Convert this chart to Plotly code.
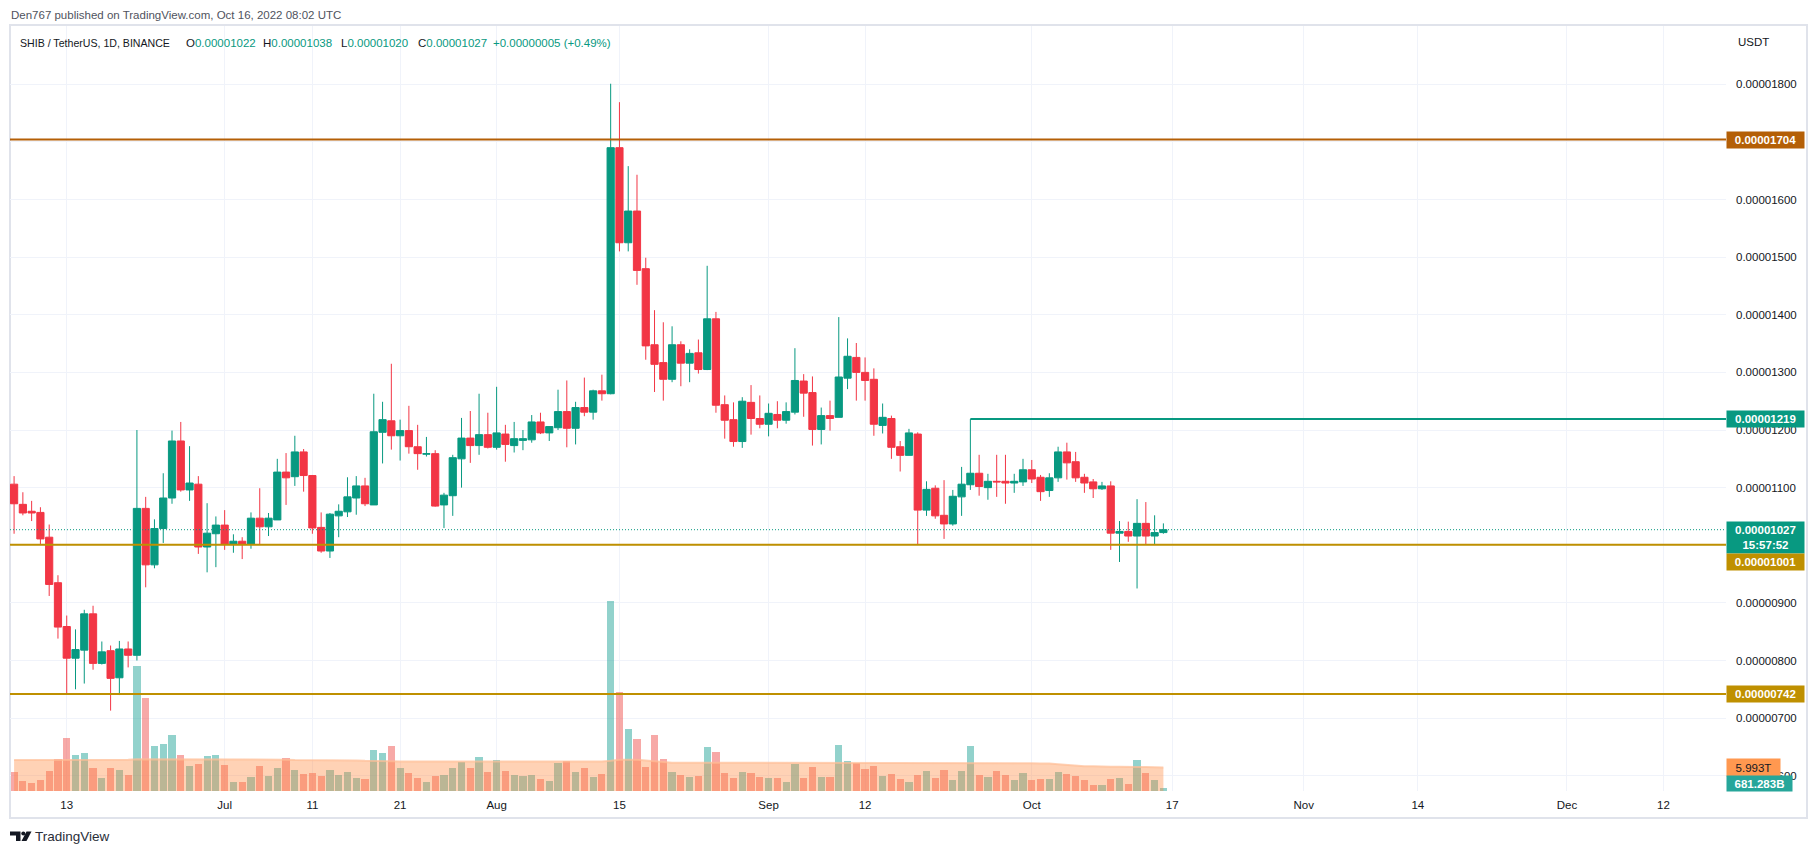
import pandas as pd
import plotly.graph_objects as go

W, H = 1818, 854


def px(x):
    return x / W


def py(y):
    return 1 - y / H


UNIT = 1e-8          # prices below are in units of 0.00000001 USDT
START = "2022-06-07"  # first daily candle

opens = [1106, 1071, 1059, 1057, 1014, 935, 859, 804, 818, 881, 795, 817, 770, 820,
         809, 1064, 966, 1029, 1082, 1181, 1096, 1106, 997, 1020, 1035, 1002, 1007, 1002,
         1047, 1032, 1044, 1127, 1119, 1162, 1121, 1031, 990, 1051, 1058, 1082, 1103, 1070,
         1196, 1216, 1190, 1199, 1171, 1158, 1159, 1070, 1086, 1150, 1186, 1173, 1192, 1170,
         1193, 1173, 1182, 1183, 1214, 1195, 1204, 1232, 1203, 1239, 1231, 1268, 1263, 1690,
         1525, 1580, 1480, 1348, 1317, 1288, 1348, 1316, 1334, 1305, 1393, 1244, 1218, 1180,
         1248, 1220, 1210, 1227, 1217, 1231, 1285, 1265, 1201, 1225, 1222, 1290, 1326, 1300,
         1288, 1208, 1220, 1171, 1156, 1193, 1061, 1099, 1052, 1037, 1084, 1105, 1125, 1100,
         1111, 1111, 1108, 1110, 1131, 1118, 1095, 1117, 1162, 1145, 1118, 1110, 1098, 1103,
         1021, 1024, 1016, 1038, 1016, 1022]
highs = [1120, 1092, 1077, 1066, 1036, 948, 878, 854, 888, 895, 833, 826, 834, 833,
         1200, 1084, 1045, 1125, 1199, 1214, 1172, 1120, 1073, 1050, 1061, 1019, 1014, 1057,
         1099, 1056, 1150, 1160, 1190, 1167, 1122, 1057, 1056, 1071, 1118, 1120, 1117, 1263,
         1249, 1315, 1218, 1242, 1209, 1188, 1165, 1091, 1157, 1221, 1233, 1263, 1230, 1275,
         1209, 1214, 1200, 1226, 1230, 1206, 1270, 1286, 1249, 1291, 1270, 1296, 1801, 1769,
         1658, 1643, 1499, 1408, 1387, 1380, 1354, 1340, 1357, 1485, 1405, 1260, 1248, 1257,
         1278, 1260, 1246, 1250, 1248, 1342, 1297, 1293, 1239, 1251, 1396, 1359, 1351, 1326,
         1307, 1246, 1225, 1181, 1202, 1196, 1111, 1104, 1113, 1096, 1136, 1219, 1157, 1124,
         1157, 1157, 1124, 1150, 1148, 1122, 1125, 1171, 1178, 1162, 1124, 1115, 1110, 1111,
         1042, 1041, 1080, 1075, 1052, 1038]
lows = [1020, 1052, 1042, 1002, 912, 838, 742, 750, 760, 784, 793, 713, 740, 788,
        800, 927, 960, 1004, 1072, 1093, 1077, 985, 953, 962, 992, 987, 976, 994,
        1002, 1016, 1044, 1070, 1103, 1093, 1020, 987, 978, 1014, 1049, 1053, 1068, 1070,
        1142, 1166, 1147, 1159, 1131, 1154, 1067, 1030, 1051, 1100, 1143, 1157, 1168, 1166,
        1145, 1161, 1165, 1178, 1193, 1181, 1200, 1170, 1175, 1224, 1218, 1251, 1262, 1510,
        1510, 1452, 1322, 1266, 1251, 1283, 1276, 1283, 1298, 1304, 1230, 1185, 1171, 1169,
        1192, 1203, 1189, 1203, 1211, 1227, 1223, 1173, 1175, 1199, 1222, 1271, 1251, 1251,
        1190, 1194, 1150, 1128, 1156, 1002, 1051, 1046, 1011, 1034, 1051, 1096, 1086, 1079,
        1084, 1072, 1091, 1103, 1108, 1077, 1084, 1110, 1114, 1110, 1091, 1082, 1096, 992,
        971, 1006, 925, 1002, 1002, 1020]
closes = [1072, 1056, 1056, 1011, 932, 858, 804, 819, 881, 795, 815, 769, 820, 809,
          1064, 966, 1029, 1082, 1181, 1096, 1108, 997, 1021, 1035, 1002, 1007, 1002, 1047,
          1032, 1047, 1127, 1117, 1162, 1121, 1030, 990, 1054, 1059, 1084, 1103, 1072, 1197,
          1218, 1190, 1199, 1171, 1159, 1159, 1068, 1087, 1152, 1186, 1173, 1192, 1170, 1195,
          1175, 1185, 1185, 1214, 1195, 1206, 1232, 1203, 1239, 1231, 1268, 1263, 1690, 1525,
          1580, 1477, 1346, 1314, 1288, 1348, 1316, 1333, 1305, 1393, 1243, 1217, 1180, 1250,
          1220, 1210, 1229, 1217, 1232, 1286, 1264, 1201, 1225, 1220, 1292, 1328, 1300, 1286,
          1210, 1222, 1170, 1156, 1195, 1061, 1097, 1051, 1037, 1085, 1106, 1125, 1102, 1111,
          1110, 1108, 1111, 1131, 1115, 1093, 1117, 1162, 1143, 1117, 1108, 1098, 1103, 1021,
          1024, 1016, 1038, 1016, 1022, 1027]

# daily volume, in trillions of SHIB
volumes = [4.8, 2.6, 2.1, 2.9, 5.2, 8.2, 13.6, 9.3, 9.8, 5.9, 3.4, 5.9, 5.4, 4.2,
           32.0, 23.8, 11.6, 12.1, 14.4, 9.3, 6.5, 7.0, 9.0, 9.3, 6.7, 2.4, 2.4, 3.6,
           6.5, 3.9, 5.9, 8.5, 5.4, 4.4, 4.7, 3.9, 5.4, 4.2, 4.9, 3.4, 3.1, 10.5,
           9.8, 11.6, 5.9, 4.7, 3.4, 2.4, 3.9, 4.2, 5.9, 7.5, 5.9, 8.8, 4.9, 8.0,
           5.2, 4.2, 3.8, 4.0, 3.0, 2.5, 7.1, 7.7, 4.9, 5.9, 3.6, 4.4, 48.5, 25.3,
           15.9, 13.3, 6.2, 14.4, 8.2, 4.9, 4.2, 3.6, 3.9, 11.3, 10.0, 4.7, 3.4, 4.9,
           4.7, 3.6, 3.4, 3.4, 2.4, 7.0, 3.4, 6.2, 3.6, 3.6, 11.8, 7.7, 7.2, 5.7,
           6.5, 3.9, 4.4, 3.1, 2.4, 4.2, 5.2, 3.4, 5.4, 2.9, 5.2, 11.6, 4.2, 3.6,
           5.2, 4.2, 2.9, 4.7, 2.9, 3.1, 3.1, 4.9, 4.4, 3.9, 2.7, 1.5, 1.5, 3.0,
           3.2, 1.8, 7.8, 4.6, 2.7, 0.681]
# volume moving average, in trillions
volume_ma = [7.9, 7.9, 7.9, 7.9, 7.9, 7.9, 8.0, 8.0, 8.0, 8.0, 8.0, 8.0, 8.0, 8.0,
             8.1, 8.1, 8.1, 8.1, 8.1, 8.1, 8.1, 8.1, 8.1, 8.1, 8.1,
             8.0, 8.0, 8.0, 8.0, 8.0, 8.0, 8.0, 7.9, 7.9, 7.9, 7.9, 7.9, 7.9,
             7.8, 7.8, 7.7, 7.7, 7.6, 7.6,
             7.5, 7.5, 7.5, 7.5, 7.5, 7.4, 7.4, 7.4, 7.4, 7.4, 7.4, 7.4, 7.4, 7.4,
             7.4, 7.4, 7.4, 7.4, 7.4, 7.4, 7.4, 7.4, 7.4,
             7.5, 7.7, 8.0, 8.0, 8.0, 7.8, 7.6, 7.3,
             7.2, 7.2, 7.2, 7.2, 7.2, 7.2, 7.2, 7.2, 7.2, 7.2, 7.2, 7.2, 7.2, 7.2,
             7.2, 7.2, 7.2, 7.2, 7.2, 7.2, 7.2, 7.2, 7.2, 7.2, 7.2, 7.2, 7.2, 7.2,
             7.2, 7.2, 7.2, 7.2, 7.2, 7.2, 7.2, 7.2, 7.2, 7.1, 7.1, 7.1, 7.1, 7.1,
             7.0, 7.0, 6.8, 6.6, 6.4, 6.3, 6.3, 6.2, 6.2, 6.2, 6.1, 6.1, 6.1, 6.0,
             6.0, 6.0]

# horizontal levels drawn on the chart
level_prices = [1704, 1219, 1001, 742]
level_start = [None, "2022-09-24", None, None]
last_price = 1027

price_ticks = list(range(600, 1801, 100))
hidden_ticks = [1000, 1700]   # covered by price labels in the original
date_tickvals = ["2022-06-13", "2022-07-01", "2022-07-11", "2022-07-21", "2022-08-01",
                 "2022-08-15", "2022-09-01", "2022-09-12", "2022-10-01", "2022-10-17",
                 "2022-11-01", "2022-11-14", "2022-12-01", "2022-12-12"]
date_ticktext = ["13", "Jul", "11", "21", "Aug", "15", "Sep", "12", "Oct", "17",
                 "Nov", "14", "Dec", "12"]

GREEN = "#089981"
RED = "#F23645"
GOLD = "#bf9000"
BROWN = "#b45f06"
GRID = "#f0f3fa"
TXT = "#131722"
FONT = "Liberation Sans, Arial, sans-serif"

dates = pd.date_range(START, periods=len(opens), freq="D")

fig = go.Figure()

vol_colors = ["rgba(38,166,154,0.5)" if c >= o else "rgba(239,83,80,0.5)"
              for o, c in zip(opens, closes)]
fig.add_trace(go.Bar(x=dates, y=volumes, marker=dict(color=vol_colors, line=dict(width=0)),
                     width=0.82 * 86400000, yaxis="y", showlegend=False, hoverinfo="skip"))
fig.add_trace(go.Scatter(x=dates, y=volume_ma, mode="lines", fill="tozeroy",
                         line=dict(color="rgba(255,190,150,0.7)", width=2),
                         fillcolor="rgba(255,138,60,0.38)", yaxis="y",
                         showlegend=False, hoverinfo="skip"))
fig.add_trace(go.Candlestick(
    x=dates,
    open=[v * UNIT for v in opens], high=[v * UNIT for v in highs],
    low=[v * UNIT for v in lows], close=[v * UNIT for v in closes],
    increasing=dict(line=dict(color=GREEN, width=1), fillcolor=GREEN),
    decreasing=dict(line=dict(color=RED, width=1), fillcolor=RED),
    whiskerwidth=0, yaxis="y2", showlegend=False, hoverinfo="skip"))

X0, X1 = px(10), px(1726)
Y_BOT, Y_TOP = 791, 26
shapes = []
# frame
shapes.append(dict(type="rect", xref="paper", yref="paper", x0=px(10), x1=px(1807),
                   y0=py(818), y1=py(25), line=dict(color="#e0e3eb", width=2), layer="below"))
level_colors = [BROWN, GREEN, GOLD, GOLD]
for p, st, col in zip(level_prices, level_start, level_colors):
    if st is None:
        shapes.append(dict(type="line", xref="paper", yref="y2", x0=X0, x1=X1,
                           y0=p * UNIT, y1=p * UNIT, line=dict(color=col, width=2)))
    else:
        shapes.append(dict(type="line", xref="x", yref="y2", x0=st, x1="2022-12-31",
                           y0=p * UNIT, y1=p * UNIT, line=dict(color=col, width=2)))
shapes.append(dict(type="line", xref="paper", yref="y2", x0=X0, x1=X1,
                   y0=last_price * UNIT, y1=last_price * UNIT,
                   line=dict(color=GREEN, width=1, dash="1px,2px")))


def poly(pts):
    s = "M " + " L ".join(f"{px(x):.6f},{py(y):.6f}" for x, y in pts) + " Z"
    return s


# TradingView logo
shapes.append(dict(type="path", xref="paper", yref="paper", fillcolor="#131722", line=dict(width=0),
                   path=poly([(10, 831.5), (20.5, 831.5), (20.5, 841), (16, 841), (16, 835.5), (10, 835.5)])))
shapes.append(dict(type="circle", xref="paper", yref="paper", fillcolor="#131722", line=dict(width=0),
                   x0=px(21.3), x1=px(25.3), y0=py(835.5), y1=py(831.5)))
shapes.append(dict(type="path", xref="paper", yref="paper", fillcolor="#131722", line=dict(width=0),
                   path=poly([(26.5, 831.5), (31.5, 831.5), (26.5, 841), (21.5, 841)])))

ann = []


def text(x, y, s, size=11.5, color=TXT, anchor="left"):
    ann.append(dict(xref="paper", yref="paper", x=px(x), y=py(y), text=s, showarrow=False,
                    xanchor=anchor, yanchor="middle", font=dict(family=FONT, size=size, color=color)))


text(9, 15, "Den767 published on TradingView.com, Oct 16, 2022 08:02 UTC", 11.5, "#50535e")
text(18, 43, "SHIB / TetherUS, 1D, BINANCE", 10.6)
text(184, 43, f"O<span style='color:{GREEN}'>0.00001022</span>")
text(261, 43, f"H<span style='color:{GREEN}'>0.00001038</span>")
text(339, 43, f"L<span style='color:{GREEN}'>0.00001020</span>")
text(416, 43, f"C<span style='color:{GREEN}'>0.00001027</span>")
text(491, 43, f"<span style='color:{GREEN}'>+0.00000005 (+0.49%)</span>")
text(1736, 42, "USDT", 11.5)
text(33, 836, "TradingView", 13.5, "#2a2e39")

# price labels on the scale
label_specs = [
    (f"{1704 * UNIT:.8f}", 1704, BROWN, 16, 0),
    (f"{1219 * UNIT:.8f}", 1219, GREEN, 16, 0),
    (f"{last_price * UNIT:.8f}<br>15:57:52", last_price, GREEN, 31, -8),
    (f"{1001 * UNIT:.8f}", 1001, GOLD, 16, -17),
    (f"{742 * UNIT:.8f}", 742, GOLD, 16, 0),
]
for s, p, bg, h, ys in label_specs:
    ann.append(dict(xref="paper", yref="y2", x=px(1726), y=p * UNIT, yshift=ys, text=f"<b>{s}</b>",
                    showarrow=False, xanchor="left", yanchor="middle", bgcolor=bg, width=77, height=h,
                    borderpad=0, align="center", font=dict(family=FONT, size=11.5, color="white")))
ann.append(dict(xref="paper", yref="paper", x=px(1726), y=py(767.5), text="5.993T", showarrow=False,
                xanchor="left", yanchor="middle", bgcolor="#ff9850", width=53, height=17, borderpad=0,
                font=dict(family=FONT, size=11.5, color=TXT)))
ann.append(dict(xref="paper", yref="paper", x=px(1726), y=py(783.5), text="<b>681.283B</b>", showarrow=False,
                xanchor="left", yanchor="middle", bgcolor="#26a69a", width=65, height=15, borderpad=0,
                font=dict(family=FONT, size=11.5, color="white")))

y_lo = 1800 - (Y_BOT - 84.3) / 0.5762
y_hi = 1800 - (Y_TOP - 84.3) / 0.5762

fig.update_layout(
    width=W, height=H, autosize=False,
    margin=dict(l=0, r=0, t=0, b=0),
    paper_bgcolor="white", plot_bgcolor="white",
    boxgap=0.18, boxgroupgap=0, bargap=0,
    showlegend=False, hovermode=False,
    font=dict(family=FONT, size=11.5, color=TXT),
    xaxis=dict(domain=[X0, X1], type="date",
               range=["2022-06-06 12:48", "2022-12-19 03:07"],
               tickvals=date_tickvals, ticktext=date_ticktext,
               showgrid=True, gridcolor=GRID, gridwidth=1, zeroline=False, showline=False,
               ticks="", ticklabelstandoff=5, rangeslider=dict(visible=False),
               tickfont=dict(family=FONT, size=11.5, color=TXT)),
    yaxis=dict(domain=[py(Y_BOT), py(Y_TOP)], range=[0, (Y_BOT - Y_TOP) / 3.92],
               visible=False, showgrid=False, zeroline=False),
    yaxis2=dict(overlaying="y", side="right", anchor="x",
                range=[y_lo * UNIT, y_hi * UNIT],
                tickvals=[t * UNIT for t in price_ticks],
                ticktext=["" if t in hidden_ticks else f"{t * UNIT:.8f}" for t in price_ticks],
                showgrid=True, gridcolor=GRID, gridwidth=1, zeroline=False, showline=False,
                ticks="", ticklabelstandoff=9,
                tickfont=dict(family=FONT, size=11.5, color=TXT)),
    shapes=shapes, annotations=ann,
)

fig.write_html("out.html")
